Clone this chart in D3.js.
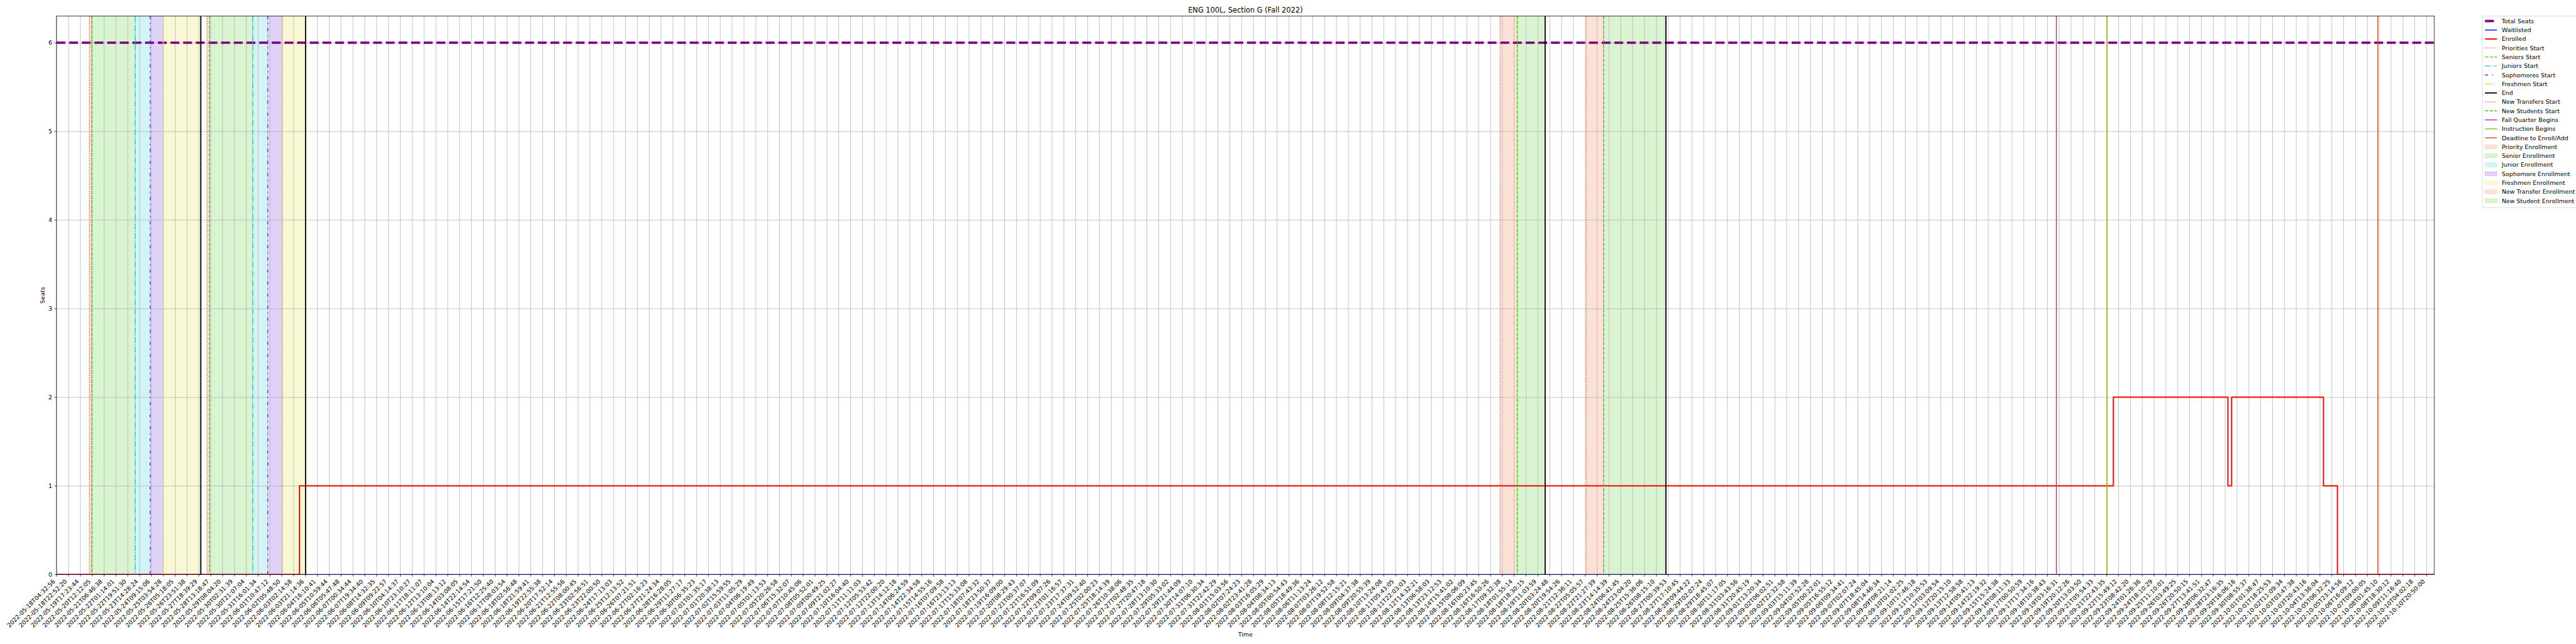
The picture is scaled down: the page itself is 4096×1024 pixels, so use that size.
<!DOCTYPE html>
<html><head><meta charset="utf-8">
<script src="https://cdn.jsdelivr.net/npm/d3@7"></script>
<style>html,body{margin:0;padding:0;background:#fff;overflow:hidden}</style>
</head><body>
<svg id="chart" width="4096" height="1024" viewBox="0 0 6000 1500"></svg>
<script>
// ---------------- data ----------------
const chartTitle = "ENG 100L, Section G (Fall 2022)";
const xTitle = "Time";
const yTitle = "Seats";
const yTicks = [0, 1, 2, 3, 4, 5, 6];
const tickLabels = [
"2022-05-18T04:32:56","2022-05-18T22:52:20","2022-05-19T17:23:44","2022-05-20T12:12:05","2022-05-21T06:46:38",
"2022-05-22T01:14:01","2022-05-22T19:51:30","2022-05-23T14:28:24","2022-05-24T09:15:06","2022-05-25T03:54:28",
"2022-05-26T05:18:05","2022-05-26T23:51:38","2022-05-27T18:39:29","2022-05-28T13:18:47","2022-05-29T08:04:20",
"2022-05-30T02:31:39","2022-05-30T21:07:04","2022-05-31T16:01:34","2022-06-01T10:47:12","2022-06-02T05:48:50",
"2022-06-03T02:14:58","2022-06-03T21:14:36","2022-06-04T16:10:41","2022-06-05T10:59:44","2022-06-06T05:47:48",
"2022-06-07T00:34:44","2022-06-07T19:34:40","2022-06-08T14:32:35","2022-06-09T09:22:57","2022-06-10T04:14:37",
"2022-06-10T23:10:27","2022-06-11T18:11:07","2022-06-12T13:10:04","2022-06-13T08:13:12","2022-06-14T03:08:05",
"2022-06-14T22:14:54","2022-06-15T17:21:50","2022-06-16T12:25:40","2022-06-17T08:03:54","2022-06-18T02:56:48",
"2022-06-18T21:59:41","2022-06-19T22:55:38","2022-06-20T17:52:14","2022-06-21T12:55:56","2022-06-22T08:00:45",
"2022-06-23T02:56:51","2022-06-23T22:00:50","2022-06-24T17:13:03","2022-06-25T12:13:52","2022-06-26T07:21:51",
"2022-06-27T02:16:23","2022-06-27T21:24:34","2022-06-28T16:28:05","2022-06-29T11:27:17","2022-06-30T06:35:23",
"2022-07-01T01:35:17","2022-07-01T20:38:13","2022-07-02T15:59:55","2022-07-03T11:05:29","2022-07-04T06:19:49",
"2022-07-05T01:13:53","2022-07-05T20:26:58","2022-07-06T15:32:07","2022-07-07T10:45:06","2022-07-08T05:52:01",
"2022-07-09T00:49:25","2022-07-09T21:02:27","2022-07-10T16:04:40","2022-07-11T11:11:03","2022-07-12T05:53:42",
"2022-07-12T22:00:20","2022-07-13T14:12:18","2022-07-14T06:24:59","2022-07-14T22:34:58","2022-07-15T14:55:16",
"2022-07-16T07:09:58","2022-07-16T23:13:13","2022-07-17T15:33:08","2022-07-18T07:43:32","2022-07-18T23:50:37",
"2022-07-19T16:09:00","2022-07-20T08:29:43","2022-07-21T00:37:07","2022-07-21T16:51:09","2022-07-22T09:07:26",
"2022-07-23T01:16:57","2022-07-23T17:37:31","2022-07-24T09:52:40","2022-07-25T02:00:23","2022-07-25T18:14:39",
"2022-07-26T10:38:06","2022-07-27T02:48:35","2022-07-27T20:47:18","2022-07-28T13:10:30","2022-07-29T05:33:02",
"2022-07-29T21:44:09","2022-07-30T14:07:10","2022-07-31T06:30:34","2022-07-31T22:42:29","2022-08-01T15:03:56",
"2022-08-02T07:24:23","2022-08-02T23:41:28","2022-08-03T16:05:29","2022-08-04T08:34:13","2022-08-05T00:54:43",
"2022-08-05T18:49:36","2022-08-06T11:13:24","2022-08-07T03:26:12","2022-08-07T19:52:58","2022-08-08T12:15:21",
"2022-08-09T04:37:38","2022-08-09T20:55:39","2022-08-10T13:24:08","2022-08-11T05:43:05","2022-08-11T22:03:03",
"2022-08-12T14:32:21","2022-08-13T06:58:03","2022-08-13T23:12:53","2022-08-14T15:41:02","2022-08-15T08:06:09",
"2022-08-16T00:23:45","2022-08-16T16:50:26","2022-08-17T09:32:38","2022-08-18T01:55:14","2022-08-18T18:30:15",
"2022-08-19T11:03:59","2022-08-20T03:24:48","2022-08-20T19:54:26","2022-08-21T12:36:11","2022-08-22T05:05:57",
"2022-08-22T21:27:39","2022-08-23T14:14:39","2022-08-24T06:41:45","2022-08-24T23:04:20","2022-08-25T15:36:06",
"2022-08-26T08:15:10","2022-08-27T00:39:53","2022-08-27T17:10:45","2022-08-28T09:44:22","2022-08-29T02:07:24",
"2022-08-29T18:45:07","2022-08-30T11:17:05","2022-08-31T03:43:56","2022-08-31T20:45:19","2022-09-01T13:20:34",
"2022-09-02T06:02:51","2022-09-02T22:32:58","2022-09-03T15:11:39","2022-09-04T07:52:28","2022-09-05T00:22:01",
"2022-09-05T16:55:12","2022-09-06T09:34:41","2022-09-07T02:07:24","2022-09-07T18:45:04","2022-09-08T14:46:34",
"2022-09-09T08:21:14","2022-09-10T01:02:25","2022-09-10T17:46:18","2022-09-11T10:35:53","2022-09-12T03:09:54",
"2022-09-12T20:15:10","2022-09-13T12:58:58","2022-09-14T05:41:13","2022-09-14T22:19:32","2022-09-15T15:24:38",
"2022-09-16T08:11:33","2022-09-17T00:50:59","2022-09-17T17:34:16","2022-09-18T10:38:43","2022-09-19T03:16:31",
"2022-09-19T20:12:26","2022-09-20T13:03:50","2022-09-21T05:54:33","2022-09-21T22:43:35","2022-09-22T15:49:12",
"2022-09-23T08:42:20","2022-09-24T01:26:36","2022-09-24T18:10:29","2022-09-25T11:10:01","2022-09-26T03:49:25",
"2022-09-26T20:50:15","2022-09-27T13:41:51","2022-09-28T06:32:47","2022-09-28T23:16:35","2022-09-29T16:06:16",
"2022-09-30T08:55:37","2022-10-01T01:38:47","2022-10-01T18:25:53","2022-10-02T11:09:34","2022-10-03T03:47:38",
"2022-10-03T20:43:16","2022-10-04T13:36:04","2022-10-05T06:32:25","2022-10-05T23:14:56","2022-10-06T16:09:12",
"2022-10-07T09:00:05","2022-10-08T01:45:10","2022-10-08T18:30:12","2022-10-09T11:16:40","2022-10-10T04:02:18",
"2022-10-10T20:50:00"
];
// x positions are in tick-index units (one unit = one labelled sample step)
const xEndPos = 200.67;
const totalSeats = 6;
const waitlistedPos = [0, 200.67];
const waitlistedVal = [0, 0];
const enrolledPos = [0, 20.50, 173.58, 183.25, 183.56, 191.31, 192.49, 200.67];
const enrolledVal = [0, 1, 2, 1, 2, 1, 0, 0];
const eventNames = ["Priorities Start","Seniors Start","Juniors Start","Sophomores Start","Freshmen Start","End",
  "Priorities Start","Seniors Start","Juniors Start","Sophomores Start","Freshmen Start","End",
  "New Transfers Start","New Students Start","End","New Transfers Start","New Students Start","End",
  "Fall Quarter Begins","Instruction Begins","Deadline to Enroll/Add"];
const eventPos = [2.77, 2.98, 6.64, 7.91, 9.00, 12.18,
  12.70, 12.92, 16.56, 17.82, 19.08, 21.02,
  121.82, 123.28, 125.63, 129.10, 130.56, 135.82,
  168.77, 173.05, 195.90];
const spanNames = ["Priority Enrollment","Senior Enrollment","Junior Enrollment","Sophomore Enrollment","Freshmen Enrollment",
  "Priority Enrollment","Senior Enrollment","Junior Enrollment","Sophomore Enrollment","Freshmen Enrollment",
  "New Transfer Enrollment","New Student Enrollment","New Transfer Enrollment","New Student Enrollment"];
const spanStart = [2.77, 2.98, 6.64, 7.91, 9.00, 12.70, 12.92, 16.56, 17.82, 19.08, 121.82, 123.28, 129.10, 130.56];
const spanEnd   = [2.98, 6.64, 7.91, 9.00, 12.18, 12.92, 16.56, 17.82, 19.08, 21.02, 123.28, 125.63, 130.56, 135.82];
const legendLabels = ["Total Seats","Waitlisted","Enrolled","Priorities Start","Seniors Start","Juniors Start",
  "Sophomores Start","Freshmen Start","End","New Transfers Start","New Students Start","Fall Quarter Begins",
  "Instruction Begins","Deadline to Enroll/Add","Priority Enrollment","Senior Enrollment","Junior Enrollment",
  "Sophomore Enrollment","Freshmen Enrollment","New Transfer Enrollment","New Student Enrollment"];

// ---------------- styles ----------------
const LW = 2.08;
const style = {
  "Total Seats": {type:"line", color:"#800080", w:5.56, dash:"20.6,8.9"},
  "Waitlisted": {type:"line", color:"#0000ff", w:2.08, dash:null},
  "Enrolled": {type:"line", color:"#ff0000", w:2.78, dash:null},
  "Priorities Start": {type:"line", color:"#ee6a2f", w:LW, dash:"2.1,3.4"},
  "New Transfers Start": {type:"line", color:"#ee6a2f", w:LW, dash:"2.1,3.4"},
  "Seniors Start": {type:"line", color:"#3fc81b", w:LW, dash:"7.7,3.3"},
  "New Students Start": {type:"line", color:"#3fc81b", w:LW, dash:"7.7,3.3"},
  "Juniors Start": {type:"line", color:"#1cc8d8", w:LW, dash:"13.3,3.3,2.1,3.3"},
  "Sophomores Start": {type:"line", color:"#6a1ed8", w:LW, dash:"7,9.5,2.1,9.5"},
  "Freshmen Start": {type:"line", color:"#dede2a", w:LW, dash:"13.3,3.3,2.1,3.3,2.1,3.3"},
  "End": {type:"line", color:"#000000", w:LW+0.6, dash:null},
  "Fall Quarter Begins": {type:"line", color:"#d91aa5", w:LW, dash:null},
  "Instruction Begins": {type:"line", color:"#8cb31a", w:LW, dash:null},
  "Deadline to Enroll/Add": {type:"line", color:"#d24a1e", w:LW, dash:null},
  "Priority Enrollment": {type:"patch", color:"#ee6a2f"},
  "Senior Enrollment": {type:"patch", color:"#3fc81b"},
  "Junior Enrollment": {type:"patch", color:"#1cc8d8"},
  "Sophomore Enrollment": {type:"patch", color:"#6a1ed8"},
  "Freshmen Enrollment": {type:"patch", color:"#dede2a"},
  "New Transfer Enrollment": {type:"patch", color:"#ee6a2f"},
  "New Student Enrollment": {type:"patch", color:"#3fc81b"}
};
const FONT = "DejaVu Sans, Liberation Sans, sans-serif";
const FS = 13.9;

// ---------------- layout (reference pixels) ----------------
const L = 131.6, R = 5670, T = 37.5, B = 1338;
const svg = d3.select("#chart");
svg.append("rect").attr("width",6000).attr("height",1500).attr("fill","#fff");

const x = d3.scaleLinear().domain([0, xEndPos]).range([L, R]);
const y = d3.scaleLinear().domain([0, 6.3]).range([B, T]);
const tickIdx = d3.range(tickLabels.length);

const plot = svg.append("g");
// spans
plot.selectAll("rect.span").data(spanNames.map((n,i)=>({n, a:spanStart[i], b:spanEnd[i]})))
  .enter().append("rect").attr("class","span")
  .attr("x", d=>x(d.a)).attr("width", d=>x(d.b)-x(d.a))
  .attr("y", T).attr("height", B-T)
  .attr("fill", d=>style[d.n].color).attr("fill-opacity",0.2)
  .attr("stroke", d=>style[d.n].color).attr("stroke-opacity",0.2).attr("stroke-width",1);

// grid
const gridX = d3.axisBottom(x).tickValues(tickIdx).tickSize(-(B-T)).tickFormat("");
plot.append("g").attr("transform",`translate(0,${B})`).call(gridX)
  .call(g=>g.select(".domain").remove())
  .call(g=>g.selectAll("line").attr("stroke","#b0b0b0").attr("stroke-width",1.1));
const gridY = d3.axisLeft(y).tickValues(yTicks).tickSize(-(R-L)).tickFormat("");
plot.append("g").attr("transform",`translate(${L},0)`).call(gridY)
  .call(g=>g.select(".domain").remove())
  .call(g=>g.selectAll("line").attr("stroke","#b0b0b0").attr("stroke-width",1.1));

// clip
svg.append("clipPath").attr("id","clip").append("rect").attr("x",L).attr("y",T).attr("width",R-L).attr("height",B-T);
const lines = plot.append("g").attr("clip-path","url(#clip)");

function drawLine(name, xs, ys, curve){
  const s = style[name];
  const gen = d3.line().x(d=>x(d[0])).y(d=>y(d[1])).curve(curve||d3.curveLinear);
  lines.append("path").datum(xs.map((v,i)=>[v, ys[i]])).attr("d", gen)
    .attr("fill","none").attr("stroke", s.color).attr("stroke-width", s.w)
    .attr("stroke-dasharray", s.dash).attr("stroke-linejoin","round");
}
drawLine("Total Seats", [0, xEndPos], [totalSeats, totalSeats]);
drawLine("Waitlisted", waitlistedPos, waitlistedVal);
drawLine("Enrolled", enrolledPos, enrolledVal, d3.curveStepAfter);

// events
lines.selectAll("line.evt").data(eventNames.map((n,i)=>({n, p:eventPos[i]})))
  .enter().append("line").attr("class","evt")
  .attr("x1", d=>x(d.p)).attr("x2", d=>x(d.p)).attr("y1", T).attr("y2", B)
  .attr("stroke", d=>style[d.n].color).attr("stroke-width", d=>style[d.n].w)
  .attr("stroke-dasharray", d=>style[d.n].dash);

// frame
svg.append("rect").attr("x",L).attr("y",T).attr("width",R-L).attr("height",B-T)
  .attr("fill","none").attr("stroke","#000").attr("stroke-width",1.1);

// x axis ticks & labels
const xAxis = d3.axisBottom(x).tickValues(tickIdx).tickSize(4.9).tickFormat("");
svg.append("g").attr("transform",`translate(0,${B})`).call(xAxis)
  .call(g=>g.select(".domain").remove())
  .call(g=>g.selectAll("line").attr("stroke","#000").attr("stroke-width",1.1));
svg.append("g").selectAll("text").data(tickIdx).enter().append("text")
  .attr("transform", i=>`translate(${x(i)-2.3},${B+9.8+7.5}) rotate(-45)`)
  .attr("text-anchor","end").attr("font-family",FONT).attr("font-size",FS).attr("fill","#000")
  .text(i=>tickLabels[i]);

// y axis
const yAxis = d3.axisLeft(y).tickValues(yTicks).tickSize(4.9).tickPadding(4.9).tickFormat(d3.format("d"));
svg.append("g").attr("transform",`translate(${L},0)`).call(yAxis)
  .call(g=>g.select(".domain").remove())
  .call(g=>g.selectAll("line").attr("stroke","#000").attr("stroke-width",1.1))
  .call(g=>g.selectAll("text").attr("font-family",FONT).attr("font-size",FS).attr("fill","#000"));

// titles
svg.append("text").attr("x",(L+R)/2).attr("y",29).attr("text-anchor","middle")
  .attr("font-family",FONT).attr("font-size",16.7).text(chartTitle);
svg.append("text").attr("x",(L+R)/2).attr("y",1482).attr("text-anchor","middle")
  .attr("font-family",FONT).attr("font-size",FS).text(xTitle);
svg.append("text").attr("transform",`translate(104,${(T+B)/2}) rotate(-90)`).attr("text-anchor","middle")
  .attr("font-family",FONT).attr("font-size",FS).text(yTitle);

// legend
const lgX = 5782, lgY = 37.5, row0 = 49, rowH = 20.93;
const lg = svg.append("g");
const frame = lg.append("rect").attr("x",lgX).attr("y",lgY).attr("rx",3).attr("ry",3)
  .attr("fill","#fff").attr("fill-opacity",0.8).attr("stroke","#cccccc").attr("stroke-width",1.1);
let maxW = 0;
legendLabels.forEach((n,i)=>{
  const cy = row0 + i*rowH;
  const s = style[n];
  if (s.type === "line") {
    lg.append("line").attr("x1",5788).attr("x2",5815.8).attr("y1",cy).attr("y2",cy)
      .attr("stroke",s.color).attr("stroke-width",s.w).attr("stroke-dasharray",s.dash);
  } else {
    lg.append("rect").attr("x",5788).attr("y",cy-4.9).attr("width",27.8).attr("height",9.7)
      .attr("fill",s.color).attr("fill-opacity",0.2).attr("stroke",s.color).attr("stroke-opacity",0.2);
  }
  const t = lg.append("text").attr("x",5827).attr("y",cy+5).attr("font-family",FONT).attr("font-size",FS).text(n);
  maxW = Math.max(maxW, t.node().getComputedTextLength());
});
frame.attr("width", 5827 - lgX + maxW + 5.6).attr("height", row0 + 20*rowH + 10.5 + 5.6 - lgY);
</script>
</body></html>
